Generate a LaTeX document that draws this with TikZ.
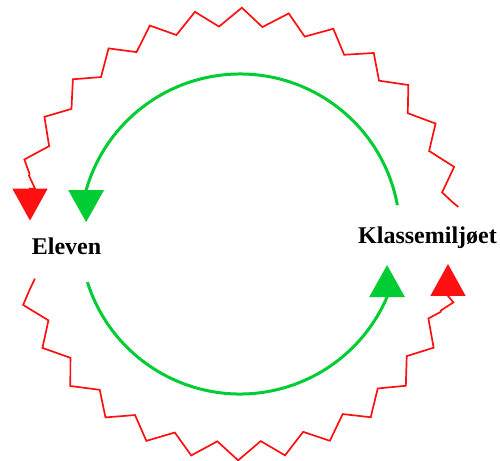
\documentclass[tikz,border=0pt]{standalone}
\usepackage{fontspec}
\setmainfont{Liberation Serif}
\usepackage{tikz}
\usetikzlibrary{positioning, arrows.meta, decorations.pathmorphing, calc}
\definecolor{cyclered}{RGB}{255,16,16}
\definecolor{cyclegreen}{RGB}{0,204,51}

\begin{document}
\begin{tikzpicture}[x=1pt, y=1pt,
    word/.style={font=\fontsize{24}{28}\selectfont\bfseries, inner sep=0pt, anchor=base},
    inring/.style={cyclegreen, line width=3pt},
    outring/.style={cyclered, line width=1.7pt},
    bigtip/.tip={Triangle[length=32pt, width=35pt]},
    zz/.style={decoration={zigzag, segment length=45.3pt, amplitude=9pt}}]
    \useasboundingbox (0,0) rectangle (500,460);
    \coordinate (gc) at (240,226);
    \coordinate (rc) at (238,226);

    \node[word] (eleven) at (66.5,205) {Eleven};
    \node[word] (miljo) at (427.5,216) {Klassemiljøet};

    % green ring, two halves
    \draw[inring, -{bigtip}]
    ($(gc)+(10.4:160)$) arc[start angle=10.4, end angle=164.1, radius=160] -- ++(0,-32);
    \draw[inring, -{bigtip}]
    ($(gc)+(197.5:160)$) arc[start angle=197.5, end angle=336.8, radius=160] -- ++(0,32);

    % red zigzag ring, two halves
    \draw[outring, -{bigtip}]
    ($(rc)+(7:222)$) -- ($(rc)+(8.4:217)$)
    decorate[zz] {($(rc)+(8.4:217)$) arc[start angle=8.4, end angle=164.4, radius=217]}
    -- ($(rc)+(167.4:208)$) -- (30,271.4) -- ++(0,-32);
    \draw[outring, -{bigtip}]
    ($(rc)+(192.4:208)$) -- ($(rc)+(195.4:217)$)
    decorate[zz, decoration={mirror}] {($(rc)+(195.4:217)$) arc[start angle=195.4, end angle=339.4, radius=217]}
    -- ($(rc)+(342.4:226)$) -- (448,164) -- ++(0,32);
\end{tikzpicture}
\end{document}
